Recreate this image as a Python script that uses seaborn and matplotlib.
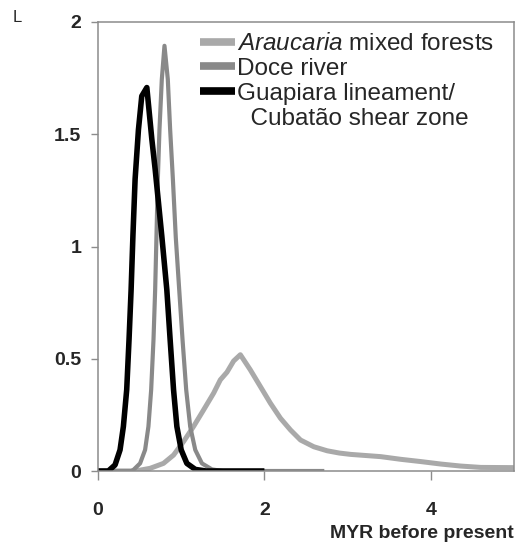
import matplotlib
matplotlib.use("Agg")
import matplotlib.pyplot as plt
from matplotlib.lines import Line2D
from matplotlib.ticker import FixedLocator, FuncFormatter
import pandas as pd
import seaborn as sns

# Posterior density of divergence time (million years before present)
araucaria_x = [0.0, 0.45, 0.627, 0.787, 0.908, 1.028, 1.148, 1.269, 1.39, 1.47,
               1.55, 1.63, 1.711, 1.83, 1.952, 2.072, 2.193, 2.313, 2.434, 2.594,
               2.755, 2.9, 3.036, 3.398, 3.64, 3.88, 4.12, 4.36, 4.6, 5.0]
araucaria_y = [0.0, 0.0, 0.012, 0.034, 0.071, 0.131, 0.198, 0.272, 0.347, 0.406,
               0.44, 0.49, 0.518, 0.451, 0.376, 0.302, 0.235, 0.183, 0.138, 0.108,
               0.09, 0.08, 0.074, 0.064, 0.052, 0.042, 0.031, 0.022, 0.016, 0.015]

doce_x = [0.0, 0.40, 0.426, 0.506, 0.566, 0.606, 0.639, 0.667, 0.687, 0.703, 0.719,
          0.739, 0.767, 0.799, 0.839, 0.867, 0.9, 0.935, 0.976, 1.016, 1.06, 1.108,
          1.169, 1.249, 1.37, 1.5, 2.72]
doce_y = [0.0, 0.0, 0.005, 0.034, 0.094, 0.198, 0.362, 0.585, 0.808, 1.05, 1.30,
          1.522, 1.745, 1.894, 1.745, 1.522, 1.30, 1.04, 0.808, 0.585, 0.362, 0.198,
          0.094, 0.034, 0.007, 0.0, 0.0]

guapiara_x = [0.0, 0.124, 0.205, 0.265, 0.305, 0.345, 0.373, 0.398, 0.42, 0.446,
              0.486, 0.526, 0.587, 0.647, 0.687, 0.727, 0.767, 0.827, 0.867, 0.908,
              0.948, 1.0, 1.068, 1.17, 1.3, 2.0]
guapiara_y = [0.0, 0.0, 0.027, 0.094, 0.198, 0.362, 0.585, 0.808, 1.05, 1.30,
              1.52, 1.67, 1.708, 1.478, 1.344, 1.195, 1.046, 0.808, 0.585, 0.362,
              0.198, 0.094, 0.034, 0.007, 0.0, 0.0]

series_names = ["Araucaria mixed forests", "Doce river",
                "Guapiara lineament/Cubatão shear zone"]
legend_labels = ["$\\it{Araucaria}$ mixed forests", "Doce river",
                 "Guapiara lineament/", "  Cubatão shear zone"]
series_colors = ["#a9a9a9", "#898989", "#000000"]
series_widths = [3.6, 3.0, 4.0]

x_ticks = [0, 2, 4]
y_ticks = [0, 0.5, 1, 1.5, 2]

frames = []
for name, xs, ys in zip(series_names,
                        [araucaria_x, doce_x, guapiara_x],
                        [araucaria_y, doce_y, guapiara_y]):
    frames.append(pd.DataFrame({"x": xs, "y": ys, "series": name}))
df = pd.concat(frames, ignore_index=True)

sns.set_style("white")
plt.rcParams["font.family"] = ["Liberation Sans", "DejaVu Sans"]
plt.rcParams["mathtext.fontset"] = "custom"
plt.rcParams["mathtext.rm"] = "Liberation Sans"
plt.rcParams["mathtext.it"] = "Liberation Sans:italic"

fig = plt.figure(figsize=(5.27, 5.47), dpi=100)
ax = fig.add_axes([98 / 527, 1 - 471 / 547, 416 / 527, 449 / 547])

sns.lineplot(data=df, x="x", y="y", hue="series", hue_order=series_names,
             palette=dict(zip(series_names, series_colors)), sort=False,
             estimator=None, ax=ax, legend=False)
for line, lw in zip(ax.get_lines(), series_widths):
    line.set_linewidth(lw)
    line.set_solid_joinstyle("round")
    line.set_solid_capstyle("butt")

ax.set_xlim(0, 5)
ax.set_ylim(0, 2)
ax.xaxis.set_major_locator(FixedLocator(x_ticks))
ax.yaxis.set_major_locator(FixedLocator(y_ticks))
ax.yaxis.set_major_formatter(FuncFormatter(lambda v, p: f"{v:g}"))
ax.xaxis.set_major_formatter(FuncFormatter(lambda v, p: f"{v:g}"))
ax.set_xlabel("")
ax.set_ylabel("")

for s in ax.spines.values():
    s.set_color("#8c8c8c")
    s.set_linewidth(1.1)
ax.tick_params(axis="y", which="major", direction="out", length=5, width=1,
               color="#8c8c8c", pad=7, left=True, labelsize=14)
ax.tick_params(axis="x", which="major", direction="out", length=6.5, width=1,
               color="#8c8c8c", pad=16, bottom=True, labelsize=14)
for lab in ax.get_xticklabels() + ax.get_yticklabels():
    lab.set_fontweight("bold")

handles = [Line2D([], [], color=c, linewidth=5.5, solid_capstyle="butt")
           for c in series_colors]
handles.append(Line2D([], [], color="none"))
ax.legend(handles, legend_labels, loc="upper left", frameon=False,
          bbox_to_anchor=(200 / 527, 1 - 33 / 547), bbox_transform=fig.transFigure,
          borderpad=0, borderaxespad=0, handlelength=1.44, handletextpad=0.08,
          labelspacing=0.12, fontsize=17.5)

fig.text(514 / 527, 1 - 533 / 547, "MYR before present", ha="right", va="center",
         fontsize=14, fontweight="bold")
fig.text(13 / 527, 1 - 17 / 547, "L", ha="left", va="center", fontsize=12)

fig.savefig("out.png", dpi=100)
